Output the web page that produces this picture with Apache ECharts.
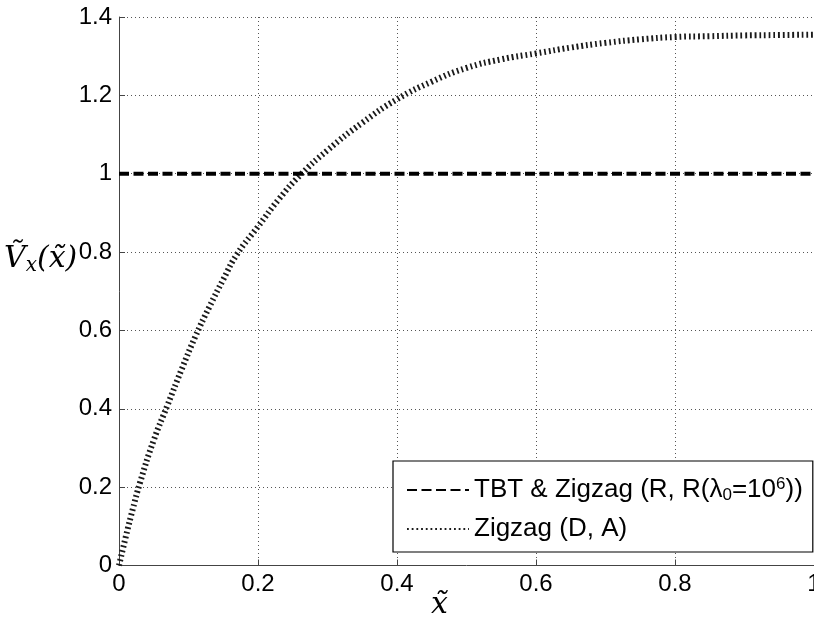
<!DOCTYPE html>
<html>
<head>
<meta charset="utf-8">
<script src="https://cdn.jsdelivr.net/npm/echarts@6/dist/echarts.min.js"></script>
<style>html,body{margin:0;padding:0;background:#fff}#c{width:814px;height:629px}</style>
</head>
<body>
<div id="c"></div>
<script>
var xTicks = [0, 0.2, 0.4, 0.6, 0.8, 1];
var yTicks = [0, 0.2, 0.4, 0.6, 0.8, 1, 1.2, 1.4];
var curveX = [0, 0.01, 0.02, 0.03, 0.05, 0.07, 0.09, 0.11, 0.13, 0.15, 0.17, 0.2, 0.23, 0.26, 0.3, 0.35, 0.4, 0.45, 0.5, 0.55, 0.6, 0.65, 0.7, 0.75, 0.8, 0.85, 0.9, 0.95, 1.0];
var curveV = [0, 0.075, 0.145, 0.21, 0.32, 0.41, 0.5, 0.585, 0.66, 0.73, 0.795, 0.865, 0.935, 0.995, 1.06, 1.13, 1.19, 1.235, 1.27, 1.292, 1.307, 1.322, 1.334, 1.343, 1.349, 1.351, 1.353, 1.354, 1.355];
var flatX = [0, 1];
var flatV = [1, 1];
var seriesNames = ['TBT & Zigzag (R, R(λ0=10^6))', 'Zigzag (D, A)'];

function pairs(xs, ys) { return xs.map(function (x, i) { return [x, ys[i]]; }); }

var font = 'Liberation Sans, Arial, sans-serif';
var serif = 'DejaVu Serif, Liberation Serif, serif';
var chart = echarts.init(document.getElementById('c'), null, { renderer: 'canvas' });
chart.setOption({
  backgroundColor: '#fff',
  animation: false,
  grid: { left: 119, top: 17, right: 0, bottom: 63.5, containLabel: false, outerBoundsMode: 'none' },
  xAxis: {
    type: 'value', min: 0, max: 1, interval: 0.2,
    axisLine: { show: true, onZero: false, lineStyle: { color: '#444', width: 1 } },
    axisTick: { show: true, inside: true, length: 6, lineStyle: { color: '#444' } },
    axisLabel: { color: '#000', fontFamily: font, fontSize: 24, margin: 7,
      formatter: function (v) { return String(+v.toFixed(1)); } },
    splitLine: { show: true, lineStyle: { color: '#555', type: [1, 3], width: 1 } }
  },
  yAxis: {
    type: 'value', min: 0, max: 1.4, interval: 0.2,
    axisLine: { show: true, onZero: false, lineStyle: { color: '#444', width: 1 } },
    axisTick: { show: true, inside: true, length: 6, lineStyle: { color: '#444' } },
    axisLabel: { color: '#000', fontFamily: font, fontSize: 24, margin: 7,
      formatter: function (v) { return String(+v.toFixed(1)); } },
    splitLine: { show: true, lineStyle: { color: '#555', type: [1, 3], width: 1 } }
  },
  legend: {
    orient: 'vertical',
    left: 393, top: 461,
    padding: [15, 10, 10, 13],
    itemGap: 12,
    itemWidth: 62, itemHeight: 14,
    backgroundColor: '#fff',
    borderColor: '#000', borderWidth: 1.2,
    itemStyle: { opacity: 0 },
    data: seriesNames,
    formatter: function (n) {
      if (n === seriesNames[0]) return '{m|TBT & Zigzag (R, R(λ}{sub|0}{m|=10}{sup|6}{m|))}';
      return '{m|' + n + '}';
    },
    textStyle: {
      fontFamily: font, fontSize: 26, color: '#000',
      rich: {
        m: { fontFamily: font, fontSize: 26, color: '#000', lineHeight: 28 },
        sub: { fontFamily: font, fontSize: 17, color: '#000', lineHeight: 9, verticalAlign: 'bottom' },
        sup: { fontFamily: font, fontSize: 17, color: '#000', lineHeight: 12, verticalAlign: 'top' }
      }
    }
  },
  series: [
    {
      name: seriesNames[0], type: 'line', data: pairs(flatX, flatV),
      showSymbol: false, symbol: 'none',
      lineStyle: { color: '#000', width: 4, type: [10, 4.5] },
      itemStyle: { color: '#000' }, z: 3
    },
    {
      name: seriesNames[1], type: 'line', data: pairs(curveX, curveV),
      showSymbol: false, symbol: 'none', smooth: true,
      lineStyle: { color: '#1a1a1a', width: 6, type: [1.8, 2.9], cap: 'butt' },
      itemStyle: { color: '#1a1a1a' }, z: 2
    }
  ],
  graphic: [
    {
      type: 'text', left: 4, top: 244,
      style: {
        text: '{v|V\u0303}{s|x}{p|(x\u0303)}',
        rich: {
          v: { fontFamily: serif, fontStyle: 'italic', fontSize: 30, fill: '#000', lineHeight: 34 },
          s: { fontFamily: serif, fontStyle: 'italic', fontSize: 20, fill: '#000', lineHeight: 20, verticalAlign: 'bottom' },
          p: { fontFamily: serif, fontStyle: 'italic', fontSize: 30, fill: '#000', lineHeight: 34 }
        }
      }
    },
    {
      type: 'text', left: 431, top: 590,
      style: { text: 'x\u0303', fontFamily: serif, fontStyle: 'italic', fontSize: 30, fill: '#000' }
    }
  ]
});
</script>
</body>
</html>
